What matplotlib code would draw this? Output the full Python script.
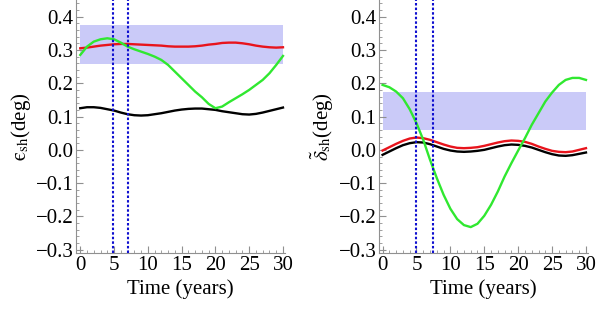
import matplotlib
matplotlib.use("Agg")
import matplotlib.pyplot as plt
from matplotlib.ticker import MultipleLocator
import numpy as np

plt.rcParams['font.family'] = ['Liberation Serif', 'DejaVu Serif']
plt.rcParams['mathtext.fontset'] = 'stix'

# ---- data ----
t = list(range(0, 31))

eps_green = [0.285, 0.31, 0.325, 0.332, 0.335, 0.332, 0.322, 0.31, 0.302, 0.295, 0.288,
             0.28, 0.27, 0.255, 0.235, 0.215, 0.195, 0.175, 0.158, 0.138, 0.125,
             0.13, 0.143, 0.155, 0.167, 0.18, 0.195, 0.21, 0.23, 0.255, 0.282]
eps_red = [0.305, 0.307, 0.31, 0.313, 0.315, 0.317, 0.318, 0.318, 0.317, 0.316, 0.315,
           0.314, 0.313, 0.311, 0.31, 0.31, 0.31, 0.311, 0.313, 0.316, 0.318,
           0.321, 0.322, 0.322, 0.32, 0.317, 0.313, 0.31, 0.308, 0.307, 0.308]
eps_black = [0.125, 0.128, 0.128, 0.126, 0.122, 0.118, 0.112, 0.107, 0.104, 0.103, 0.104,
             0.107, 0.11, 0.114, 0.118, 0.121, 0.123, 0.124, 0.124, 0.122, 0.12,
             0.116, 0.113, 0.11, 0.107, 0.106, 0.108, 0.112, 0.117, 0.122, 0.127]

del_green = [0.195, 0.188, 0.175, 0.155, 0.122, 0.08, 0.03, -0.03, -0.085, -0.135, -0.177,
             -0.208, -0.226, -0.232, -0.222, -0.198, -0.165, -0.125, -0.08, -0.04, -0.002,
             0.035, 0.075, 0.11, 0.145, 0.172, 0.195, 0.21, 0.216, 0.216, 0.21]
del_red = [-0.002, 0.008, 0.018, 0.027, 0.034, 0.037, 0.035, 0.03, 0.023, 0.016, 0.01,
           0.006, 0.005, 0.006, 0.008, 0.012, 0.017, 0.022, 0.026, 0.028, 0.027,
           0.024, 0.018, 0.01, 0.003, -0.003, -0.006, -0.007, -0.005, 0.0, 0.005]
del_black = [-0.015, -0.005, 0.005, 0.014, 0.02, 0.023, 0.022, 0.017, 0.01, 0.003, -0.002,
             -0.005, -0.006, -0.005, -0.003, 0.0, 0.005, 0.01, 0.014, 0.016, 0.015,
             0.012, 0.007, 0.0, -0.007, -0.013, -0.017, -0.018, -0.016, -0.012, -0.008]

eps_band = (0.257, 0.374)
del_band = (0.06, 0.175)
vlines_left = [4.9, 7.1]
vlines_right = [5.0, 7.4]

yticks = [-0.3, -0.2, -0.1, 0.0, 0.1, 0.2, 0.3, 0.4]
xticks = [0, 5, 10, 15, 20, 25, 30]

fig = plt.figure(figsize=(6.0, 3.09), dpi=100)
ax1 = fig.add_axes([0.127, 0.181, 0.348, 0.819])
ax2 = fig.add_axes([0.632, 0.181, 0.348, 0.819])

def style(ax, ylabel, band, vl, g, r, k, xmin):
    ax.axhspan(band[0], band[1], xmin=(0 - xmin) / (30.3 - xmin), xmax=(30 - xmin) / (30.3 - xmin),
               color='#cacaf8', lw=0, zorder=0)
    ax.plot(t, k, color='black', lw=1.7, zorder=3)
    ax.plot(t, r, color='#e8141c', lw=1.7, zorder=3)
    ax.plot(t, g, color='#30e830', lw=1.7, zorder=4)
    for x in vl:
        ax.axvline(x, color='#1010d0', lw=1.5, ls=(0, (1.2, 1.0)), zorder=5)
    ax.set_xlim(xmin, 30.3)
    ax.set_ylim(-0.31, 0.45)
    for s in ['top', 'right']:
        ax.spines[s].set_visible(False)
    for s in ['left', 'bottom']:
        ax.spines[s].set_color('#909090')
        ax.spines[s].set_linewidth(0.8)
    ax.set_xticks(xticks)
    ax.set_yticks(yticks)
    ax.set_xticklabels([str(v) for v in xticks])
    ax.set_yticklabels(['\u2212%.1f' % abs(v) if v < 0 else '%.1f' % v for v in yticks])
    ax.xaxis.set_minor_locator(MultipleLocator(1))
    ax.yaxis.set_minor_locator(MultipleLocator(0.02))
    ax.tick_params(which='major', direction='in', length=5, width=0.8, color='#909090',
                   labelsize=15, pad=2)
    ax.tick_params(which='minor', direction='in', length=2.5, width=0.6, color='#909090')
    ax.set_xlabel('Time (years)', fontsize=15, labelpad=3)
    ax.set_ylabel(ylabel, fontsize=15, labelpad=2)

style(ax1, '$\\mathrm{\u03f5}_{\\rm sh}$(deg)', eps_band, vlines_left, eps_green, eps_red, eps_black, -0.6)
style(ax2, r'$\tilde{\delta}_{\rm sh}$(deg)', del_band, vlines_right, del_green, del_red, del_black, -0.5)

fig.savefig('out.png', dpi=100)
